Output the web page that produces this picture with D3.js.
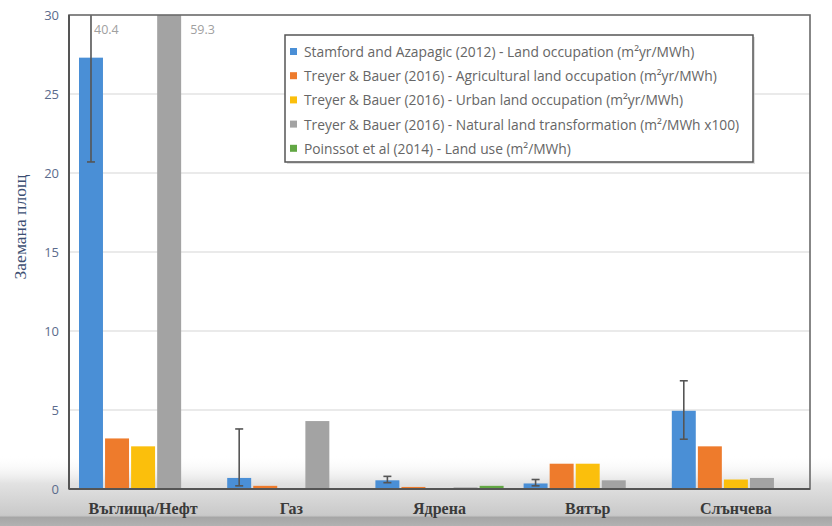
<!DOCTYPE html>
<html><head><meta charset="utf-8">
<script src="https://cdn.jsdelivr.net/npm/d3@7"></script>
<style>body{margin:0;background:#fff}svg{display:block}</style>
</head><body>
<svg id="c" width="832" height="526"></svg>
<script>
const categories = ["Въглища/Нефт","Газ","Ядрена","Вятър","Слънчева"];
const seriesNames = [
  "Stamford and Azapagic (2012) - Land occupation (m²yr/MWh)",
  "Treyer & Bauer (2016) - Agricultural land occupation (m²yr/MWh)",
  "Treyer & Bauer (2016) - Urban land occupation (m²yr/MWh)",
  "Treyer & Bauer (2016) - Natural land transformation (m²/MWh x100)",
  "Poinssot et al (2014) - Land use (m²/MWh)"
];
const stamford      = [27.3, 0.7, 0.55, 0.35, 4.95];
const stamfordLow   = [20.7, 0.2, 0.4, 0.2, 3.15];
const stamfordHigh  = [40.4, 3.8, 0.8, 0.6, 6.85];
const treyerAgri    = [3.2, 0.2, 0.13, 1.6, 2.7];
const treyerUrban   = [2.7, 0.05, 0.05, 1.6, 0.6];
const treyerNatural = [59.3, 4.3, 0.1, 0.55, 0.7];
const poinssot      = [0, 0.03, 0.2, 0, 0];
const yTicks = [0,5,10,15,20,25,30];
const colors = ["#4a8fd6","#ee7b2c","#fbbf0c","#a3a3a3","#62a744"];
const seriesValues = [stamford, treyerAgri, treyerUrban, treyerNatural, poinssot];

const svg = d3.select("#c");
const W = 832, H = 526;
const m = {left:69, right:22, top:15, bottom:37};
const x0 = m.left, x1 = W - m.right, yTop = m.top, yBot = H - m.bottom;

// background shading at bottom
const defs = svg.append("defs");
const g1 = defs.append("linearGradient").attr("id","shade").attr("x1",0).attr("x2",0).attr("y1",0).attr("y2",1);
g1.append("stop").attr("offset","0%").attr("stop-color","#ffffff").attr("stop-opacity",0);
g1.append("stop").attr("offset","40%").attr("stop-color","#e2e2e2").attr("stop-opacity",1);
g1.append("stop").attr("offset","85%").attr("stop-color","#c9c9c9");
g1.append("stop").attr("offset","88%").attr("stop-color","#a6a6a6");
g1.append("stop").attr("offset","100%").attr("stop-color","#b2b2b2");
svg.append("rect").attr("x",0).attr("y",455).attr("width",W).attr("height",H-455).attr("fill","url(#shade)");

defs.append("clipPath").attr("id","plot").append("rect")
  .attr("x",x0).attr("y",yTop).attr("width",x1-x0).attr("height",yBot-yTop);

const y = d3.scaleLinear().domain([0,30]).range([yBot,yTop]);
const xb = d3.scaleBand().domain(categories).range([x0,x1]).paddingInner(0.135).paddingOuter(0.0675);
const xs = d3.scaleBand().domain(d3.range(5)).range([0,xb.bandwidth()]).paddingInner(0.08);

// gridlines
svg.append("g").selectAll("line").data(yTicks.filter(d=>d>0 && d<30)).join("line")
  .attr("x1",x0).attr("x2",x1).attr("y1",d=>y(d)).attr("y2",d=>y(d))
  .attr("stroke","#d6d6d6").attr("stroke-width",1.2);

// bars
const plot = svg.append("g").attr("clip-path","url(#plot)");
seriesValues.forEach((vals,si)=>{
  plot.append("g").selectAll("rect").data(vals).join("rect")
    .attr("x",(d,i)=>xb(categories[i])+xs(si))
    .attr("width",xs.bandwidth())
    .attr("y",d=>y(d))
    .attr("height",d=>y(0)-y(d))
    .attr("fill",colors[si]);
});

// error bars on Stamford
const ex = i => xb(categories[i]) + xs(0) + xs.bandwidth()/2;
const eb = plot.append("g").attr("stroke","#555").attr("stroke-width",1.6);
eb.selectAll("line.v").data(stamford).join("line").attr("class","v")
  .attr("x1",(d,i)=>ex(i)).attr("x2",(d,i)=>ex(i))
  .attr("y1",(d,i)=>y(stamfordLow[i])).attr("y2",(d,i)=>y(stamfordHigh[i]));
eb.selectAll("line.l").data(stamford).join("line").attr("class","l")
  .attr("x1",(d,i)=>ex(i)-4).attr("x2",(d,i)=>ex(i)+4)
  .attr("y1",(d,i)=>y(stamfordLow[i])).attr("y2",(d,i)=>y(stamfordLow[i]));
eb.selectAll("line.h").data(stamford).join("line").attr("class","h")
  .attr("x1",(d,i)=>ex(i)-4).attr("x2",(d,i)=>ex(i)+4)
  .attr("y1",(d,i)=>y(stamfordHigh[i])).attr("y2",(d,i)=>y(stamfordHigh[i]));

// labels for off-scale values
const labG = svg.append("g").attr("font-family","'Open Sans', sans-serif").attr("font-size",12.5).attr("fill","#a0a0a0");
stamfordHigh.forEach((v,i)=>{ if(v>30) labG.append("text").attr("x",ex(i)+3).attr("y",yTop+19).text(v.toFixed(1)); });
treyerNatural.forEach((v,i)=>{ if(v>30) labG.append("text").attr("x",xb(categories[i])+xs(3)+xs.bandwidth()+9).attr("y",yTop+19).text(v.toFixed(1)); });

// frame
svg.append("rect").attr("x",x0).attr("y",yTop).attr("width",x1-x0).attr("height",yBot-yTop)
  .attr("fill","none").attr("stroke","#6a6a6a").attr("stroke-width",1.6);
svg.append("line").attr("x1",x0).attr("x2",x0).attr("y1",yTop).attr("y2",yBot).attr("stroke","#555").attr("stroke-width",2);
svg.append("line").attr("x1",x0).attr("x2",x1).attr("y1",yBot).attr("y2",yBot).attr("stroke","#555").attr("stroke-width",2);

// y axis
const ya = svg.append("g").attr("transform",`translate(${x0-10},0)`)
  .call(d3.axisLeft(y).tickValues(yTicks).tickSize(0).tickPadding(0));
ya.select(".domain").remove();
ya.selectAll("text").attr("font-family","'Open Sans', sans-serif").attr("font-size",13).attr("fill","#5b6b8c");

// x axis
const xa = svg.append("g").attr("transform",`translate(0,${yBot})`)
  .call(d3.axisBottom(xb).tickSize(0).tickPadding(14));
xa.select(".domain").remove();
xa.selectAll("text").attr("font-family","'Liberation Serif', serif").attr("font-weight","bold").attr("font-size",16).attr("fill","#3a3a3a");

// y label
svg.append("text").attr("transform",`translate(26,227) rotate(-90)`)
  .attr("text-anchor","middle").attr("font-family","'Liberation Serif', serif").attr("font-size",17.5)
  .attr("fill","#3d4f73").text("Заемана площ");

// legend
const lg = svg.append("g");
lg.append("rect").attr("x",287).attr("y",37).attr("width",468).attr("height",127).attr("fill","#c8c8c8").attr("opacity",0.6);
lg.append("rect").attr("x",285).attr("y",35).attr("width",468).attr("height",127).attr("fill","#fff").attr("stroke","#555").attr("stroke-width",1.5);
seriesNames.forEach((n,i)=>{
  const yy = 52 + i*24.2;
  lg.append("rect").attr("x",290).attr("y",yy-4).attr("width",7).attr("height",7).attr("fill",colors[i]);
  lg.append("text").attr("x",304).attr("y",yy+5).attr("font-family","'Open Sans', sans-serif").attr("font-size",13.8).attr("fill","#666").text(n);
});
</script>
</body></html>
